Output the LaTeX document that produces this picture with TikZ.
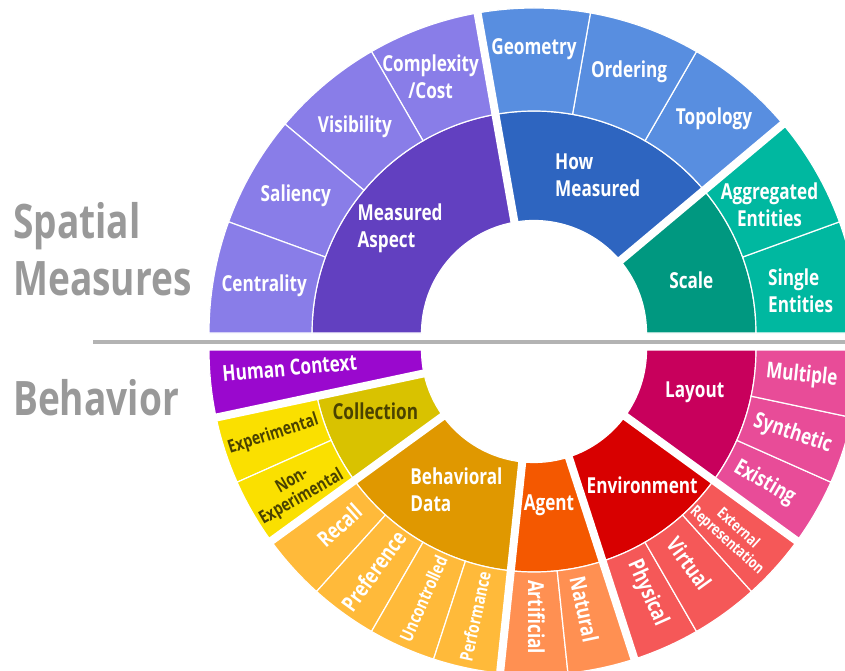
\documentclass[tikz,border=0pt]{standalone}
\usepackage{fontspec}
\newfontfamily\labelfont{Open Sans}[FakeStretch=0.78]
\usepackage{xcolor}
\definecolor{aspectdk}{RGB}{98,64,192}
\definecolor{aspectlt}{RGB}{137,125,232}
\definecolor{howdk}{RGB}{46,101,192}
\definecolor{howlt}{RGB}{88,142,224}
\definecolor{scaledk}{RGB}{0,152,128}
\definecolor{scalelt}{RGB}{0,184,160}
\definecolor{humanctx}{RGB}{154,8,206}
\definecolor{collectdk}{RGB}{217,194,0}
\definecolor{collectlt}{RGB}{250,224,0}
\definecolor{collecttxt}{RGB}{74,66,0}
\definecolor{behavdk}{RGB}{224,152,0}
\definecolor{behavlt}{RGB}{255,186,58}
\definecolor{agentdk}{RGB}{244,88,0}
\definecolor{agentlt}{RGB}{255,144,82}
\definecolor{envdk}{RGB}{216,0,0}
\definecolor{envlt}{RGB}{245,88,88}
\definecolor{layoutdk}{RGB}{200,0,92}
\definecolor{layoutlt}{RGB}{232,76,152}
\definecolor{sidegray}{RGB}{153,153,153}
\definecolor{rulegray}{RGB}{179,179,179}
\usepackage{tikz}
\usetikzlibrary{calc}

% ring segment: center, start angle, end angle, inner r, outer r, colour
\newcommand{\ringseg}[6]{%
  \filldraw[fill=#6, draw=white, line width=1.2pt]
    ($(#1)+(#2:#4)$) arc[start angle=#2, end angle=#3, radius=#4]
    -- ($(#1)+(#3:#5)$) arc[start angle=#3, end angle=#2, radius=#5] -- cycle;}

\begin{document}
\begin{tikzpicture}[x=1pt, y=1pt,
    gap/.style={draw=white, line width=8pt},
    lbl/.style={text=white, inner sep=0pt, align=center,
                font=\labelfont\bfseries\fontsize{22}{27}\selectfont},
    small/.style={font=\labelfont\bfseries\fontsize{18}{19}\selectfont},
    tiny/.style={font=\labelfont\bfseries\fontsize{15.5}{16.5}\selectfont},
    side/.style={text=sidegray, inner sep=0pt, align=left,
                 font=\labelfont\bfseries\fontsize{47.5}{57}\selectfont}]
  \clip (0,0) rectangle (845,670);

  \coordinate (top) at (534,337);
  \coordinate (bot) at (534,320);

  % spatial measures half
  \ringseg{top}{100}{180}{112.5}{222}{aspectdk}
  \ringseg{top}{40}{100}{112.5}{222}{howdk}
  \ringseg{top}{0}{40}{112.5}{222}{scaledk}
  \foreach \a in {100,120,140,160} {\ringseg{top}{\a}{\a+20}{222}{325}{aspectlt}}
  \foreach \a in {40,60,80} {\ringseg{top}{\a}{\a+20}{222}{325}{howlt}}
  \foreach \a in {0,20} {\ringseg{top}{\a}{\a+20}{222}{325}{scalelt}}

  % behavior half
  \ringseg{bot}{180}{192}{112.5}{325}{humanctx}
  \ringseg{bot}{192}{216}{112.5}{222}{collectdk}
  \ringseg{bot}{216}{264}{112.5}{222}{behavdk}
  \ringseg{bot}{264}{288}{112.5}{222}{agentdk}
  \ringseg{bot}{288}{324}{112.5}{222}{envdk}
  \ringseg{bot}{324}{360}{112.5}{222}{layoutdk}
  \foreach \a in {192,204} {\ringseg{bot}{\a}{\a+12}{222}{325}{collectlt}}
  \foreach \a in {216,228,240,252} {\ringseg{bot}{\a}{\a+12}{222}{325}{behavlt}}
  \foreach \a in {264,276} {\ringseg{bot}{\a}{\a+12}{222}{325}{agentlt}}
  \foreach \a in {288,300,312} {\ringseg{bot}{\a}{\a+12}{222}{325}{envlt}}
  \foreach \a in {324,336,348} {\ringseg{bot}{\a}{\a+12}{222}{325}{layoutlt}}

  % gaps between groups
  \foreach \a in {40,100} {\draw[gap] ($(top)+(\a:100)$) -- ($(top)+(\a:340)$);}
  \foreach \a in {192,216,264,288,324} {\draw[gap] ($(bot)+(\a:100)$) -- ($(bot)+(\a:340)$);}

  % dividing rule
  \draw[rulegray, line width=3.5pt] (93,328) -- (845,328);

  % side titles
  \node[side, anchor=west] (spatial) at (13,421) {Spatial\\Measures};
  \node[side, anchor=west] (behavior) at (13,272) {Behavior};

  \begin{scope}[every node/.style={lbl}]
    % inner ring, top
    \node[align=left] (aspect) at ($(top)+(142:170)$) {Measured\\Aspect};
    \node[align=left] (how) at ($(top)+(68:170)$) {How\\Measured};
    \node (scale) at ($(top)+(18.6:166)$) {Scale};
    % outer ring, top
    \node (centrality) at ($(top)+(170:274)$) {Centrality};
    \node (saliency) at ($(top)+(150:275)$) {Saliency};
    \node (visibility) at ($(top)+(131:273)$) {Visibility};
    \node (complexity) at ($(top)+(112:276)$) {Complexity\\/Cost};
    \node (geometry) at ($(top)+(90:284)$) {Geometry};
    \node (ordering) at ($(top)+(70:278)$) {Ordering};
    \node (topology) at ($(top)+(50:280)$) {Topology};
    \node (aggregated) at ($(top)+(28.5:268)$) {Aggregated\\Entities};
    \node[align=left] (single) at ($(top)+(9:270)$) {Single\\Entities};

    % inner ring, bottom
    \node[rotate=5] (human) at ($(bot)+(184.2:245)$) {Human Context};
    \node[text=collecttxt] (collection) at ($(bot)+(201:170)$) {Collection};
    \node[align=left] (behavdata) at ($(bot)+(241:160)$) {Behavioral\\Data};
    \node (agent) at ($(bot)+(275.5:156)$) {Agent};
    \node (environment) at ($(bot)+(308.7:173)$) {Environment};
    \node (layout) at ($(bot)+(345.4:166)$) {Layout};
    % outer ring, bottom
    \node[small, text=collecttxt, rotate=18] (experimental) at ($(bot)+(198:274)$) {Experimental};
    \node[small, text=collecttxt, rotate=30] (nonexp) at ($(bot)+(210.5:275)$) {Non-\\Experimental};
    \node[rotate=42] (recall) at ($(bot)+(222:262)$) {Recall};
    \node[rotate=54] (preference) at ($(bot)+(234:273)$) {Preference};
    \node[small, rotate=66] (uncontrolled) at ($(bot)+(246:272)$) {Uncontrolled};
    \node[small, rotate=78] (performance) at ($(bot)+(257.5:273)$) {Performance};
    \node[rotate=-90] (artificial) at ($(bot)+(270.5:267)$) {Artificial};
    \node[rotate=-78] (natural) at ($(bot)+(281:264)$) {Natural};
    \node[rotate=-66] (physical) at ($(bot)+(295:268)$) {Physical};
    \node[rotate=-54] (virtual) at ($(bot)+(306:264)$) {Virtual};
    \node[tiny, rotate=-42] (extrep) at ($(bot)+(317:271)$) {External\\Representation};
    \node[rotate=-30] (existing) at ($(bot)+(330:266)$) {Existing};
    \node[rotate=-18] (synthetic) at ($(bot)+(342:272)$) {Synthetic};
    \node[rotate=-6] (multiple) at ($(bot)+(354.5:269)$) {Multiple};
  \end{scope}
\end{tikzpicture}
\end{document}
